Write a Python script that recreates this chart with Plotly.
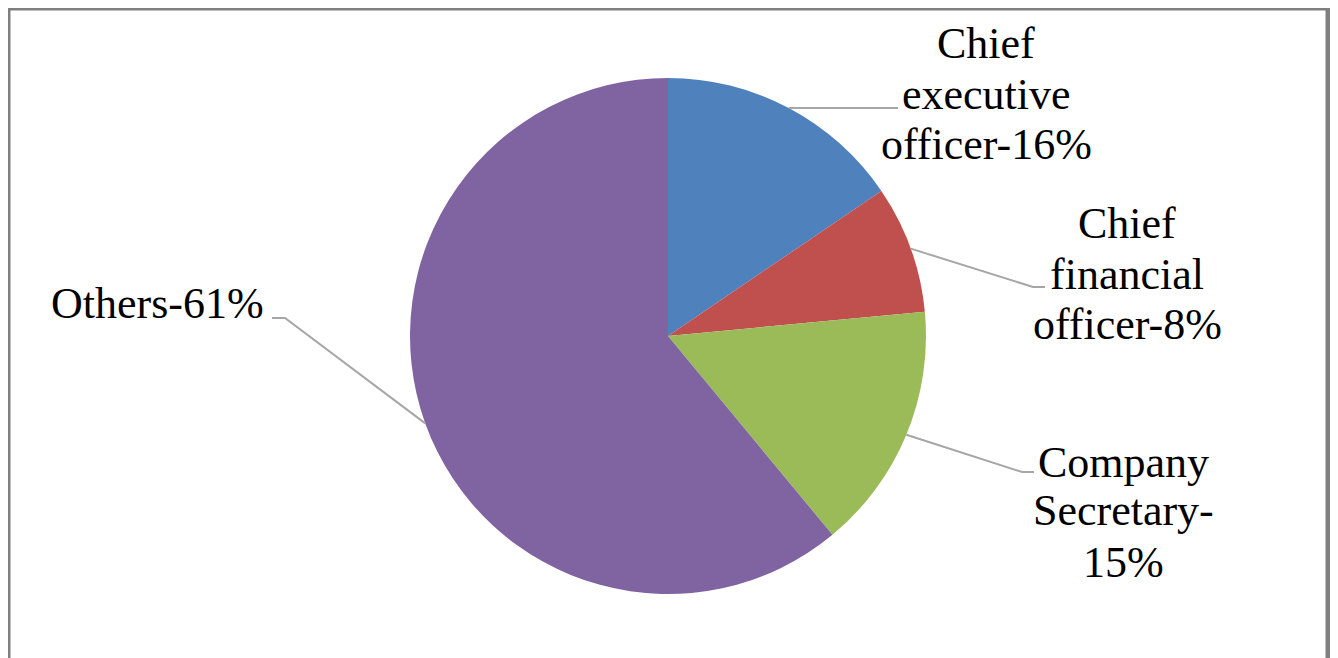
import math
import plotly.graph_objects as go

# ---- data ----
categories = ["Chief executive officer", "Chief financial officer", "Company Secretary", "Others"]
values = [15.5, 8, 15.5, 61]
label_lines = [
    ["Chief", "executive", "officer-16%"],
    ["Chief", "financial", "officer-8%"],
    ["Company", "Secretary-", "15%"],
    ["Others-61%"],
]
colors = ["#4F81BD", "#C0504D", "#9BBB59", "#8064A2"]

# ---- layout geometry (screen pixels; page body has an 8px offset) ----
W, H = 1338, 658
OFF = 8
cx, cy, r = 668, 336, 258
label_centers_x = [986, 1127, 1123, 157]
label_line_y = [[44, 94, 144], [224, 274, 324], [462, 511, 562], [304]]
leader_paths = [
    [(898, 108)],
    [(1033, 287), (1045, 287)],
    [(1022, 472), (1034, 472)],
    [(285, 318), (272, 318)],
]
FONT = "Liberation Serif"
FSIZE = 44


def px(x, y):
    return (x - OFF) / W, 1 - (y - OFF) / H


dx0, dy1 = px(cx - r, cy - r)
dx1, dy0 = px(cx + r, cy + r)
fig = go.Figure(go.Pie(
    labels=categories,
    values=values,
    sort=False,
    direction="clockwise",
    rotation=0,
    marker=dict(colors=colors, line=dict(width=0)),
    textinfo="none",
    hoverinfo="label+percent",
    domain=dict(x=[dx0, dx1], y=[dy0, dy1]),
))

shapes = []
total = sum(values)
cum = 0
for i, v in enumerate(values):
    mid = (cum + v / 2) / total * 2 * math.pi
    cum += v
    sx = cx + r * math.sin(mid)
    sy = cy - r * math.cos(mid)
    pts = [(sx, sy)] + leader_paths[i]
    path = ""
    for j, (x, y) in enumerate(pts):
        X, Y = px(x, y)
        path += ("M" if j == 0 else " L") + f" {X:.5f},{Y:.5f}"
    shapes.append(dict(type="path", xref="paper", yref="paper", path=path,
                       line=dict(color="#A6A6A6", width=2)))

# chart border
bx0, by1 = px(8, 8)
bx1, _ = px(1328, 8)
shapes.append(dict(type="rect", xref="paper", yref="paper", x0=bx0, x1=bx1, y0=-0.05, y1=by1,
                   line=dict(color="#7F7F7F", width=5), fillcolor="rgba(0,0,0,0)", layer="below"))

annotations = []
for i, lines in enumerate(label_lines):
    for j, t in enumerate(lines):
        X, Y = px(label_centers_x[i], label_line_y[i][j])
        annotations.append(dict(text=t, x=X, y=Y, xref="paper", yref="paper",
                                xanchor="center", yanchor="middle", showarrow=False,
                                font=dict(family=FONT, size=FSIZE, color="#000000")))

fig.update_layout(
    width=W, height=H,
    margin=dict(l=0, r=0, t=0, b=0),
    paper_bgcolor="white",
    plot_bgcolor="white",
    showlegend=False,
    shapes=shapes,
    annotations=annotations,
)

fig.write_html("out.html")
